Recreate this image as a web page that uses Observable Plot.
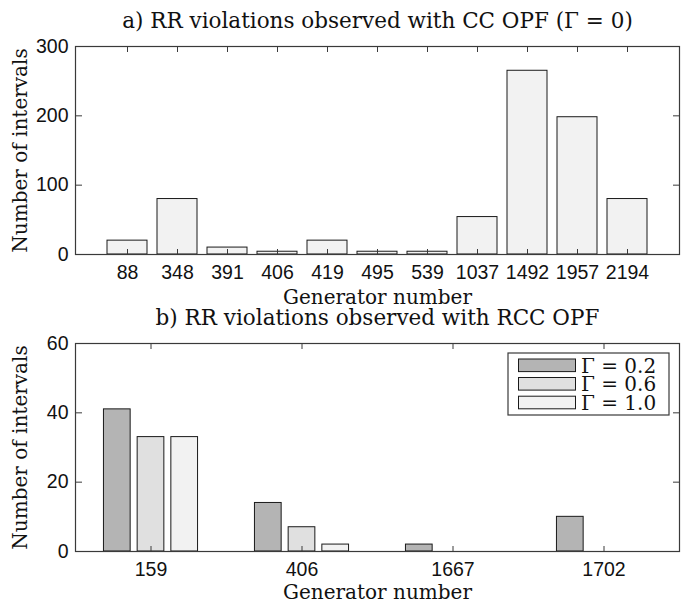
<!DOCTYPE html>
<html><head><meta charset="utf-8">
<script src="https://cdn.jsdelivr.net/npm/d3@7"></script>
<script src="https://cdn.jsdelivr.net/npm/@observablehq/plot@0.6"></script>
<style>
html,body{margin:0;padding:0;background:#fff}
svg{display:block;overflow:visible}
</style>
</head><body><div id="chart"></div>
<script>
// ---- data ----
const ccGenerators = ["88","348","391","406","419","495","539","1037","1492","1957","2194"];
const ccCounts = [20, 80, 10, 4, 20, 4, 4, 54, 265, 198, 80];
const ccTicksY = [0, 100, 200, 300];

const rccGenerators = ["159","406","1667","1702"];
const rccGammas = ["Γ = 0.2","Γ = 0.6","Γ = 1.0"];
const rccCounts02 = [41, 14, 2, 10];
const rccCounts06 = [33, 7, 0, 0];
const rccCounts10 = [33, 2, 0, 0];
const rccTicksY = [0, 20, 40, 60];

const titleA = "a) RR violations observed with CC OPF (Γ = 0)";
const titleB = "b) RR violations observed with RCC OPF";
const xLabel = "Generator number";
const yLabel = "Number of intervals";

// ---- tables ----
const ccTable = ccGenerators.map((g, i) => ({gen: g, n: ccCounts[i]}));
const rccSeries = [rccCounts02, rccCounts06, rccCounts10];
const rccTable = rccGammas.flatMap((gm, j) => rccGenerators.map((g, i) => ({gen: g, gamma: gm, n: rccSeries[j][i]})));

// ---- style ----
const W = 683;
const serif = "DejaVu Serif";
const frameColor = "#3a3a3a";

function chrome({plotW, plotH, yTicks, title, titleDy, xLabelDy}) {
  return [
    Plot.frame({stroke: frameColor, strokeWidth: 1.2}),
    // labels
    Plot.axisX({tickSize: 0, tickPadding: 11, label: null}),
    Plot.axisY(yTicks, {tickSize: 0, tickPadding: 7, label: null}),
    // inward ticks
    Plot.axisX({anchor: "bottom", tickSize: 6, text: null, label: null, dy: -plotH, stroke: frameColor}),
    Plot.axisX({anchor: "top", tickSize: 6, text: null, label: null, dy: plotH, stroke: frameColor}),
    Plot.axisY(yTicks, {anchor: "right", tickSize: 6, text: null, label: null, dx: -plotW, stroke: frameColor}),
    Plot.axisY(yTicks, {anchor: "left", tickSize: 6, text: null, label: null, dx: plotW, stroke: frameColor}),
    // titles
    Plot.text([title], {frameAnchor: "top", dy: titleDy, text: d => d, fontFamily: serif, fontSize: 21.5, textAnchor: "middle", lineAnchor: "middle", fill: "#111"}),
    Plot.text([xLabel], {frameAnchor: "bottom", dy: xLabelDy, text: d => d, fontFamily: serif, fontSize: 20, textAnchor: "middle", lineAnchor: "middle", fill: "#111"}),
    Plot.text([yLabel], {frameAnchor: "left", dx: -55, rotate: -90, text: d => d, fontFamily: serif, fontSize: 20, textAnchor: "middle", lineAnchor: "middle", fill: "#111"})
  ];
}

// ---- chart a ----
const topA = 46, botA = 55, leftM = 75, rightM = 4;
const hA = 309;
const plotA = Plot.plot({
  width: W, height: hA,
  marginTop: topA, marginBottom: botA, marginLeft: leftM, marginRight: rightM,
  style: {fontFamily: "Liberation Sans", fontSize: "19.5px", color: "#111", background: "#fff", overflow: "visible"},
  x: {domain: ccGenerators, paddingInner: 0.2, paddingOuter: 0.6},
  y: {domain: [0, 300]},
  marks: [
    Plot.barY(ccTable, {x: "gen", y: "n", fill: "#f2f2f2", stroke: "#1a1a1a", strokeWidth: 1}),
    ...chrome({plotW: W - leftM - rightM, plotH: hA - topA - botA, yTicks: ccTicksY, title: titleA, titleDy: -25, xLabelDy: 43})
  ]
});

// ---- chart b ----
const topB = 34, botB = 52, hB = 294;
const plotWB = W - leftM - rightM;
const stepB = plotWB / rccGenerators.length;
const barW = 26.7, barGap = 33.7;
const inset = (stepB - barW) / 2;
const plotB = Plot.plot({
  width: W, height: hB,
  marginTop: topB, marginBottom: botB, marginLeft: leftM, marginRight: rightM,
  style: {fontFamily: "Liberation Sans", fontSize: "19.5px", color: "#111", background: "#fff", overflow: "visible"},
  x: {domain: rccGenerators, padding: 0},
  y: {domain: [0, 60]},
  color: {domain: rccGammas, range: ["#b4b4b4", "#e0e0e0", "#f2f2f2"]},
  marks: [
    ...rccGammas.map((gm, j) => Plot.barY(rccTable.filter(d => d.gamma === gm && d.n > 0), {
      x: "gen", y: "n", fill: "gamma", stroke: "#1a1a1a", strokeWidth: 1,
      insetLeft: inset, insetRight: inset, dx: (j - 1) * barGap
    })),
    ...chrome({plotW: plotWB, plotH: hB - topB - botB, yTicks: rccTicksY, title: titleB, titleDy: -25, xLabelDy: 41})
  ]
});

// legend (inside plot b, top-right)
{
  const svg = d3.select(plotB);
  const color = plotB.scale("color");
  const oy = 309; // page offset of plot b
  const bx = 508, by = 353 - oy, bw = 161, bh = 62;
  const g = svg.append("g").attr("class", "legend");
  g.append("rect").attr("x", bx).attr("y", by).attr("width", bw).attr("height", bh)
    .attr("fill", "#fff").attr("stroke", frameColor).attr("stroke-width", 1.2);
  const rowY = [365.3, 383.8, 402.5].map(v => v - oy);
  rccGammas.forEach((gm, i) => {
    g.append("rect").attr("x", 518.5).attr("y", rowY[i] - 6.3).attr("width", 57).attr("height", 12.6)
      .attr("fill", color.apply(gm)).attr("stroke", "#1a1a1a").attr("stroke-width", 1);
    g.append("text").attr("x", 581).attr("y", rowY[i]).attr("dy", "0.36em")
      .attr("text-anchor", "start")
      .attr("font-family", serif).attr("font-size", 20).attr("fill", "#111").text(gm);
  });
}

const root = document.getElementById("chart");
root.append(plotA, plotB);
</script>
</body></html>
